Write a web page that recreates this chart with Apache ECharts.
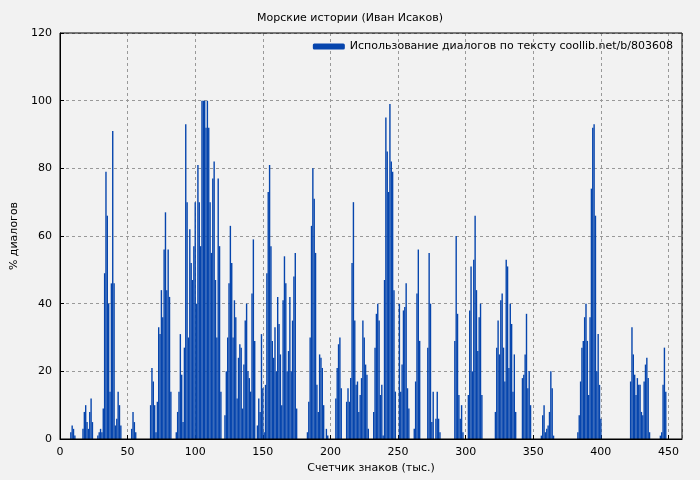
<!DOCTYPE html>
<html><head><meta charset="utf-8">
<script src="https://cdn.jsdelivr.net/npm/echarts@6/dist/echarts.min.js"></script>
<style>html,body{margin:0;background:#f2f2f2}#chart{width:700px;height:480px}</style>
</head><body><div id="chart"></div>
<script>
// each run: first number is the start position (thousand chars), then % values
const runA = [8, 2, 4, 3, 1];
const runB = [17, 3, 8, 10, 5, 3, 8, 12, 5];
const runC = [28, 1, 2, 3, 2];
const runD = [32, 9, 49, 79, 66, 40, 14, 46, 91, 46, 4, 6, 14, 10, 4];
const runE = [53, 3, 8, 5, 2];
const runF = [67, 10, 21, 17, 10, 2, 11, 33, 31, 44, 36, 56, 67, 44, 56, 42, 14];
const runG = [86, 2, 8, 14, 31, 19, 5];
const runH = [92, 27, 93, 70, 30, 62, 52, 47, 57, 70, 40, 81, 70, 57, 100, 100, 100, 92, 100, 92, 70, 55, 77, 82, 47, 30, 77, 57, 14];
const runI = [122, 7, 20, 30, 46, 63, 52, 30, 41, 36, 12, 24, 28, 27, 9, 22, 35, 40, 20, 18, 14, 43, 59, 29];
const runJ = [146, 4, 12, 8, 31, 15, 2, 16, 49, 73, 81, 57, 29, 24, 33, 20, 42, 34, 25, 10, 41, 54, 46, 20, 26, 42, 20, 35, 48, 55, 9];
const runK = [183, 2, 11, 30, 63, 80, 71, 55, 16, 8, 25, 24, 21, 10, 0, 3, 1];
const runL = [204, 12, 21, 28, 30, 15];
const runM = [212, 11, 15, 11, 18, 52, 70, 35, 16, 17, 8, 13, 18, 35, 30, 22, 19, 3];
const runN = [232, 8, 27, 37, 40, 35, 13, 16, 1, 47, 95, 85, 73, 99, 82, 79, 44, 14];
const runO = [251, 40, 14, 22, 38, 39, 46, 15, 9];
const runP = [262, 3, 17, 43, 56, 29];
const runQ = [272, 27, 55, 40, 5, 14, 0, 6, 14, 6, 2];
const runR = [292, 29, 60, 37, 13, 6, 10, 2];
const runS = [302, 13, 38, 51, 20, 53, 66, 44, 26, 36, 40, 13];
const runT = [322, 8, 27, 35, 25, 41, 43, 27, 17, 53, 51, 21, 40, 34, 14, 25, 8];
const runU = [342, 18, 19, 25, 37, 15, 20, 10];
const runV = [356, 1, 7, 10, 2, 3, 4, 8, 20, 15, 1];
const runW = [383, 2, 7, 17, 27, 29, 36, 40, 29, 13, 36, 74, 92, 93, 66, 20, 31, 16, 6];
const runX = [422, 17, 33, 25, 19, 13, 18, 16, 16, 8, 7, 17, 22, 24, 18, 2];
const runY = [444, 1, 2, 16, 27, 14];
const runs = [runA, runB, runC, runD, runE, runF, runG, runH, runI, runJ, runK, runL, runM,
    runN, runO, runP, runQ, runR, runS, runT, runU, runV, runW, runX, runY];

var points = [];
runs.forEach(function (r) {
    for (var i = 1; i < r.length; i++) points.push([r[0] + i - 1, r[i]]);
});

var font = 'DejaVu Sans';
var chart = echarts.init(document.getElementById('chart'));
chart.setOption({
    backgroundColor: '#f2f2f2',
    animation: false,
    textStyle: { fontFamily: font },
    title: {
        text: 'Морские истории (Иван Исаков)', left: 'center', top: 8,
        textStyle: { fontFamily: font, fontSize: 11, fontWeight: 'normal', color: '#000' }
    },
    legend: {
        right: 22, top: 36, itemWidth: 32, itemHeight: 6, itemGap: 8,
        align: 'left',
        textStyle: { fontFamily: font, fontSize: 11, color: '#000' },
        data: ['Использование диалогов по тексту coollib.net/b/803608']
    },
    grid: { left: 60, right: 18, top: 33, bottom: 41 },
    xAxis: {
        type: 'value', min: 0, max: 460, interval: 50,
        name: 'Счетчик знаков (тыс.)', nameLocation: 'middle', nameGap: 23,
        nameTextStyle: { fontFamily: font, fontSize: 11, color: '#000' },
        axisLine: { onZero: false, lineStyle: { color: '#000' } },
        axisTick: { inside: true, length: 4, lineStyle: { color: '#000' } },
        axisLabel: { fontFamily: font, fontSize: 11, color: '#000', showMaxLabel: false },
        splitLine: { lineStyle: { color: '#999', type: [3, 3] } }
    },
    yAxis: {
        type: 'value', min: 0, max: 120, interval: 20,
        name: '% диалогов', nameLocation: 'middle', nameGap: 40,
        nameTextStyle: { fontFamily: font, fontSize: 11, color: '#000' },
        axisLine: { show: true, lineStyle: { color: '#000' } },
        axisTick: { inside: true, length: 4, lineStyle: { color: '#000' } },
        axisLabel: { fontFamily: font, fontSize: 11, color: '#000' },
        splitLine: { lineStyle: { color: '#999', type: [3, 3] } }
    },
    graphic: [{
        type: 'rect', shape: { x: 60, y: 33, width: 622, height: 406 },
        style: { fill: 'none', stroke: '#000', lineWidth: 1 }, silent: true, z: 100
    }],
    series: [{
        name: 'Использование диалогов по тексту coollib.net/b/803608',
        type: 'bar', barWidth: 1.4, barGap: '0%',
        itemStyle: { color: '#0645ad' },
        data: points
    }]
});
</script></body></html>
